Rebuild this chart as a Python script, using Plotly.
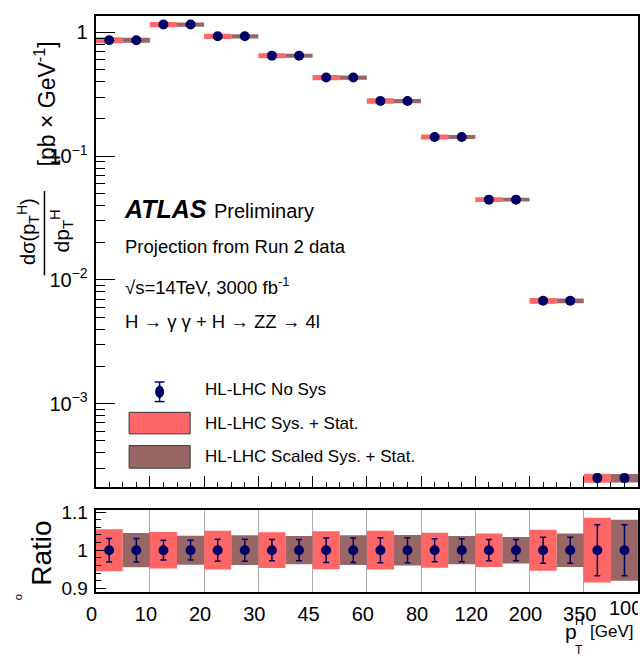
import plotly.graph_objects as go

# ---------------- data ----------------
bin_edges = ["0", "10", "20", "30", "45", "60", "80", "120", "200", "350", "1000"]
xsec = [0.865, 1.157, 0.93, 0.649, 0.432, 0.279, 0.143, 0.0445, 0.00677, 0.00025]
unc_sys_stat = [0.055, 0.048, 0.051, 0.047, 0.050, 0.051, 0.046, 0.044, 0.054, 0.085]
unc_scaled_sys_stat = [0.045, 0.038, 0.039, 0.037, 0.039, 0.040, 0.037, 0.035, 0.044, 0.080]
unc_stat = [0.031, 0.026, 0.029, 0.028, 0.032, 0.033, 0.030, 0.028, 0.034, 0.067]
y_tick_vals = [1e-3, 1e-2, 1e-1, 1]
y_tick_text = ["10<sup>\u22123</sup>", "10<sup>\u22122</sup>", "10<sup>\u22121</sup>", "1"]

RED = "#FF6666"
BROWN = "#996666"
NAVY = "#000066"
FONT = "Liberation Sans, Arial, Helvetica, sans-serif"

W, H = 640, 667
def X(px):
    return px / W
def Y(py):
    return 1 - py / H

n = len(xsec)

def boxes(offset, centers, unc):
    xs, ys = [], []
    for i, (c, u) in enumerate(zip(centers, unc)):
        lo, hi = c * (1 - u), c * (1 + u)
        x0, x1 = i + offset, i + offset + 0.5
        xs += [x0, x1, x1, x0, x0, None]
        ys += [lo, lo, hi, hi, lo, None]
    return xs, ys

fig = go.Figure()

ones = [1.0] * n
for (cent, xa, ya) in [(xsec, "x", "y"), (ones, "x2", "y2")]:
    bx, by = boxes(0.0, cent, unc_sys_stat)
    fig.add_trace(go.Scatter(x=bx, y=by, xaxis=xa, yaxis=ya, mode="lines",
                             fill="toself", fillcolor=RED, line=dict(width=0, color=RED),
                             showlegend=False, hoverinfo="skip"))
    bx, by = boxes(0.5, cent, unc_scaled_sys_stat)
    fig.add_trace(go.Scatter(x=bx, y=by, xaxis=xa, yaxis=ya, mode="lines",
                             fill="toself", fillcolor=BROWN, line=dict(width=0, color=BROWN),
                             showlegend=False, hoverinfo="skip"))
    px = [i + 0.25 for i in range(n)] + [i + 0.75 for i in range(n)]
    py = list(cent) + list(cent)
    perr = [c * s for c, s in zip(cent, unc_stat)] * 2
    fig.add_trace(go.Scatter(x=px, y=py, xaxis=xa, yaxis=ya, mode="markers",
                             marker=dict(symbol="circle", size=10, color=NAVY),
                             error_y=dict(type="data", array=perr, visible=True,
                                          color=NAVY, thickness=1.5, width=3),
                             showlegend=False))

x_dom = [X(87), X(638)]
fig.update_layout(
    width=W, height=H, autosize=False,
    margin=dict(l=0, r=0, t=0, b=0),
    paper_bgcolor="white", plot_bgcolor="white",
    font=dict(family=FONT, color="black"),
    showlegend=False,
    xaxis=dict(domain=x_dom, anchor="y", range=[0, n], tickmode="array",
               tickvals=list(range(n + 1)), showticklabels=False,
               showline=True, linecolor="black", linewidth=2, mirror=True,
               ticks="inside", ticklen=11, tickcolor="black", tickwidth=1,
               minor=dict(tickmode="linear", tick0=0, dtick=0.25, ticks="inside",
                          ticklen=5, tickcolor="black", showgrid=False),
               showgrid=False, zeroline=False),
    yaxis=dict(domain=[Y(489), Y(8)], anchor="x", type="log",
               range=[-3.672, 0.134], tickmode="array",
               tickvals=y_tick_vals, ticktext=y_tick_text,
               tickfont=dict(size=20, family=FONT), ticklabelstandoff=2,
               showline=True, linecolor="black", linewidth=2, mirror=True,
               ticks="inside", ticklen=19, tickcolor="black",
               minor=dict(tickmode="array",
                          tickvals=[k * 10 ** e for e in range(-4, 1) for k in range(2, 10)],
                          ticks="inside", ticklen=9, tickcolor="black", showgrid=False),
               showgrid=False, zeroline=False),
    xaxis2=dict(domain=x_dom, anchor="y2", range=[0, n], tickmode="array",
                tickvals=list(range(n + 1)), ticktext=bin_edges,
                tickfont=dict(size=20, family=FONT), ticklabelshift=-4,
                ticklabelstandoff=3,
                showline=True, linecolor="black", linewidth=2, mirror=True,
                ticks="", showgrid=True, gridcolor="#AAAAAA", gridwidth=1,
                zeroline=False),
    yaxis2=dict(domain=[Y(597), Y(513)], anchor="x2", range=[0.889, 1.105],
                tickmode="array", tickvals=[0.9, 1.0, 1.1], ticktext=["0.9", "1", "1.1"],
                tickfont=dict(size=19, family=FONT), ticklabelstandoff=2,
                showline=True, linecolor="black", linewidth=2, mirror=True,
                ticks="inside", ticklen=10, tickcolor="black",
                minor=dict(tickmode="linear", tick0=0.9, dtick=0.02, ticks="inside",
                           ticklen=5, tickcolor="black", showgrid=False),
                showgrid=False, zeroline=False),
)

ann = []
def text(t, x, y, size, xanchor="left", angle=0, yanchor="middle", **kw):
    ann.append(dict(text=t, x=X(x), y=Y(y), xref="paper", yref="paper",
                    xanchor=xanchor, yanchor=yanchor, showarrow=False,
                    textangle=angle, font=dict(size=size, family=FONT, color="black"), **kw))

text("<b><i>ATLAS</i></b>", 114, 205, 25)
text("Preliminary", 205, 207, 20)
text("Projection from Run 2 data", 115, 244, 18.5)
text("\u221As=14TeV, 3000 fb<sup>-1</sup>", 115, 284, 18.5)
text("H \u2192 \u03b3 \u03b3 + H \u2192 ZZ \u2192 4l", 115, 320, 18.5)
text("HL-LHC No Sys", 196, 390, 17)
text("HL-LHC Sys. + Stat.", 196, 424, 17)
text("HL-LHC Scaled Sys. + Stat.", 196, 458, 17)

# last bin-edge label: cut at the right edge as in the reference (box kept inside the canvas)
text(bin_edges[-1], 607, 613, 20, align="left", width=29, borderpad=0)

# axis titles
text("[pb \u00d7 GeV<sup>-1</sup>]", 36, 98, 23, xanchor="center", angle=-90)
text("d\u03c3(p<sub>T</sub><sup>H</sup>)", 18, 228, 20, xanchor="center", angle=-90)
text("dp<sub>T</sub><sup>H</sup>", 52, 228, 21, xanchor="center", angle=-90)
text("Ratio", 32, 557, 28, xanchor="center", angle=-90)
text("o", 9, 602, 11, xanchor="center", angle=-90)
text("[GeV]", 635, 637, 17, xanchor="right")
text("p", 570, 637, 21, xanchor="center")
text("H", 579, 626, 12, xanchor="center")
text("T", 578, 656, 12, xanchor="center")

fig.update_layout(annotations=ann)

shapes = []
# fraction bar
shapes.append(dict(type="line", xref="paper", yref="paper", x0=X(35), x1=X(35),
                   y0=Y(187), y1=Y(273), line=dict(color="black", width=1.5)))
# legend: marker with error bar
shapes.append(dict(type="line", xref="paper", yref="paper", x0=X(152), x1=X(152),
                   y0=Y(382), y1=Y(402), line=dict(color=NAVY, width=1.5)))
for yy in (382, 402):
    shapes.append(dict(type="line", xref="paper", yref="paper", x0=X(147), x1=X(157),
                       y0=Y(yy), y1=Y(yy), line=dict(color=NAVY, width=1.5)))
shapes.append(dict(type="circle", xref="paper", yref="paper", x0=X(148), x1=X(156),
                   y0=Y(398), y1=Y(386), fillcolor=NAVY, line=dict(color=NAVY, width=1)))
# legend boxes
shapes.append(dict(type="rect", xref="paper", yref="paper", x0=X(121), x1=X(183),
                   y0=Y(435), y1=Y(413), fillcolor=RED, line=dict(color="#333333", width=1)))
shapes.append(dict(type="rect", xref="paper", yref="paper", x0=X(121), x1=X(183),
                   y0=Y(470), y1=Y(447), fillcolor=BROWN, line=dict(color="#333333", width=1)))
fig.update_layout(shapes=shapes)

fig.write_html("out.html")
